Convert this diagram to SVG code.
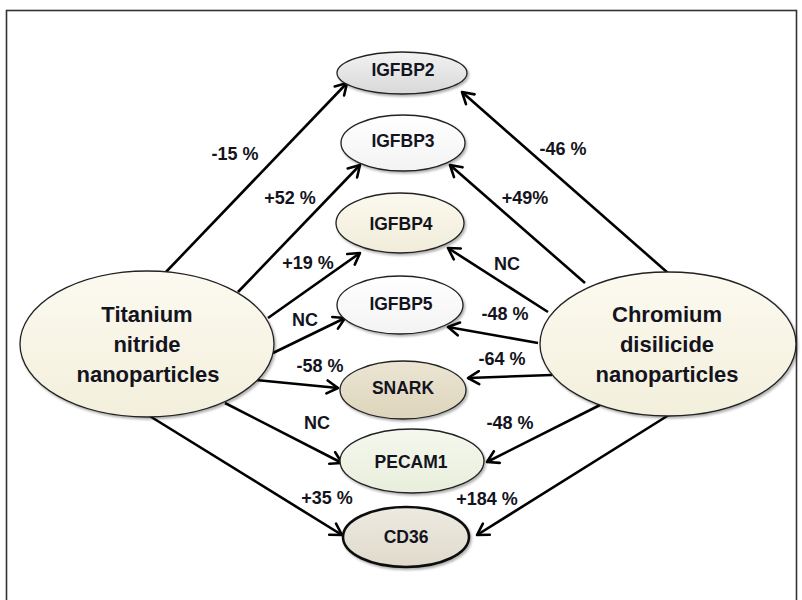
<svg xmlns="http://www.w3.org/2000/svg" width="802" height="600" viewBox="0 0 802 600">
<defs>
<style>
.n{stroke:#222;stroke-width:1.3}
.t{font-family:"Liberation Sans",Arial,sans-serif;font-weight:bold;fill:#141420;text-anchor:middle}
.g{font-size:17.5px}
.big{font-size:22px}
.lb{font-size:18px}
.c line{stroke:#000;stroke-width:2.6;marker-end:url(#ah)}
</style>
<marker id="ah" markerUnits="userSpaceOnUse" markerWidth="16" markerHeight="16" viewBox="0 0 16 16" refX="13" refY="8" orient="auto">
<path d="M2,1.5 L13,8 L2,14.5" fill="none" stroke="#000" stroke-width="2.6" stroke-linecap="round" stroke-linejoin="round"/>
</marker>
<filter id="sh" x="-10%" y="-10%" width="125%" height="130%">
<feDropShadow dx="1.5" dy="2" stdDeviation="1.2" flood-color="#000" flood-opacity="0.3"/>
</filter>
<linearGradient id="gGray" x1="0" y1="0" x2="0" y2="1"><stop offset="0" stop-color="#f2f2f2"/><stop offset="1" stop-color="#d8d8d8"/></linearGradient>
<linearGradient id="gWhite" x1="0" y1="0" x2="0" y2="1"><stop offset="0" stop-color="#ffffff"/><stop offset="1" stop-color="#f3f3f3"/></linearGradient>
<linearGradient id="gCream" x1="0" y1="0" x2="0" y2="1"><stop offset="0" stop-color="#fbf9ef"/><stop offset="1" stop-color="#f1ecd9"/></linearGradient>
<linearGradient id="gTan" x1="0" y1="0" x2="0" y2="1"><stop offset="0" stop-color="#ebe5d3"/><stop offset="1" stop-color="#ddd4bb"/></linearGradient>
<linearGradient id="gGreen" x1="0" y1="0" x2="0" y2="1"><stop offset="0" stop-color="#f5f8ee"/><stop offset="1" stop-color="#e8eedb"/></linearGradient>
<linearGradient id="gTaupe" x1="0" y1="0" x2="0" y2="1"><stop offset="0" stop-color="#edeae1"/><stop offset="1" stop-color="#dfdacb"/></linearGradient>
<linearGradient id="gBig" x1="0" y1="0" x2="0" y2="1"><stop offset="0" stop-color="#fcfaf0"/><stop offset="1" stop-color="#f3efdc"/></linearGradient>
</defs>
<rect x="0" y="0" width="802" height="600" fill="#fff"/>
<rect x="6.5" y="10.5" width="790" height="600" fill="none" stroke="#333" stroke-width="1.6"/>

<g id="connectors" class="c">
<line x1="165" y1="273" x2="347" y2="83"/>
<line x1="238" y1="292" x2="360" y2="165"/>
<line x1="268" y1="318" x2="360" y2="253"/>
<line x1="273" y1="353" x2="345" y2="318"/>
<line x1="256" y1="380" x2="338" y2="388"/>
<line x1="225" y1="403" x2="342" y2="463"/>
<line x1="148" y1="415" x2="342" y2="535"/>
<line x1="668" y1="273" x2="462" y2="92"/>
<line x1="585" y1="283" x2="450" y2="165"/>
<line x1="548" y1="312" x2="448" y2="248"/>
<line x1="538" y1="343" x2="448" y2="327"/>
<line x1="552" y1="375" x2="468" y2="378"/>
<line x1="600" y1="405" x2="487" y2="462"/>
<line x1="672" y1="413" x2="477" y2="535"/>
</g>

<g id="labels" class="t lb">
<text x="235" y="159.5">-15 %</text>
<text x="290" y="203.5">+52 %</text>
<text x="308" y="268.5">+19 %</text>
<text x="305" y="325.5">NC</text>
<text x="320" y="371.5">-58 %</text>
<text x="317" y="428.5">NC</text>
<text x="327" y="503.5">+35 %</text>
<text x="563" y="154.5">-46 %</text>
<text x="525" y="203.5">+49%</text>
<text x="507" y="269.5">NC</text>
<text x="505" y="319.5">-48 %</text>
<text x="502" y="364.5">-64 %</text>
<text x="510" y="428.5">-48 %</text>
<text x="487" y="504.5">+184 %</text>
</g>

<g id="titanium">
<ellipse class="n" cx="147" cy="344" rx="127" ry="73" fill="url(#gBig)" filter="url(#sh)"/>
<text class="t big" x="147" y="322">Titanium</text>
<text class="t big" x="147" y="352">nitride</text>
<text class="t big" x="148" y="382">nanoparticles</text>
</g>
<g id="chromium">
<ellipse class="n" cx="668" cy="344" rx="128" ry="72" fill="url(#gBig)" filter="url(#sh)"/>
<text class="t big" x="667" y="322">Chromium</text>
<text class="t big" x="667" y="352">disilicide</text>
<text class="t big" x="667" y="382">nanoparticles</text>
</g>
<g id="igfbp2">
<ellipse class="n" cx="402" cy="73" rx="65" ry="21" fill="url(#gGray)" filter="url(#sh)"/>
<text class="t g" x="403" y="76">IGFBP2</text>
</g>
<g id="igfbp3">
<ellipse class="n" cx="403" cy="143" rx="62" ry="28" fill="url(#gWhite)" filter="url(#sh)"/>
<text class="t g" x="403" y="147">IGFBP3</text>
</g>
<g id="igfbp4">
<ellipse class="n" cx="400" cy="223" rx="64" ry="30" fill="url(#gCream)" filter="url(#sh)"/>
<text class="t g" x="401" y="230">IGFBP4</text>
</g>
<g id="igfbp5">
<ellipse class="n" cx="400" cy="305" rx="63" ry="29" fill="url(#gWhite)" filter="url(#sh)"/>
<text class="t g" x="401" y="310">IGFBP5</text>
</g>
<g id="snark">
<ellipse class="n" cx="403" cy="390" rx="63" ry="29" fill="url(#gTan)" filter="url(#sh)"/>
<text class="t g" x="403" y="394">SNARK</text>
</g>
<g id="pecam1">
<ellipse class="n" cx="412" cy="461" rx="72" ry="32" fill="url(#gGreen)" filter="url(#sh)"/>
<text class="t g" x="411" y="468">PECAM1</text>
</g>
<g id="cd36">
<ellipse cx="406" cy="537" rx="63" ry="30" fill="url(#gTaupe)" stroke="#111" stroke-width="2.6" filter="url(#sh)"/>
<text class="t g" x="406" y="543">CD36</text>
</g>
</svg>
